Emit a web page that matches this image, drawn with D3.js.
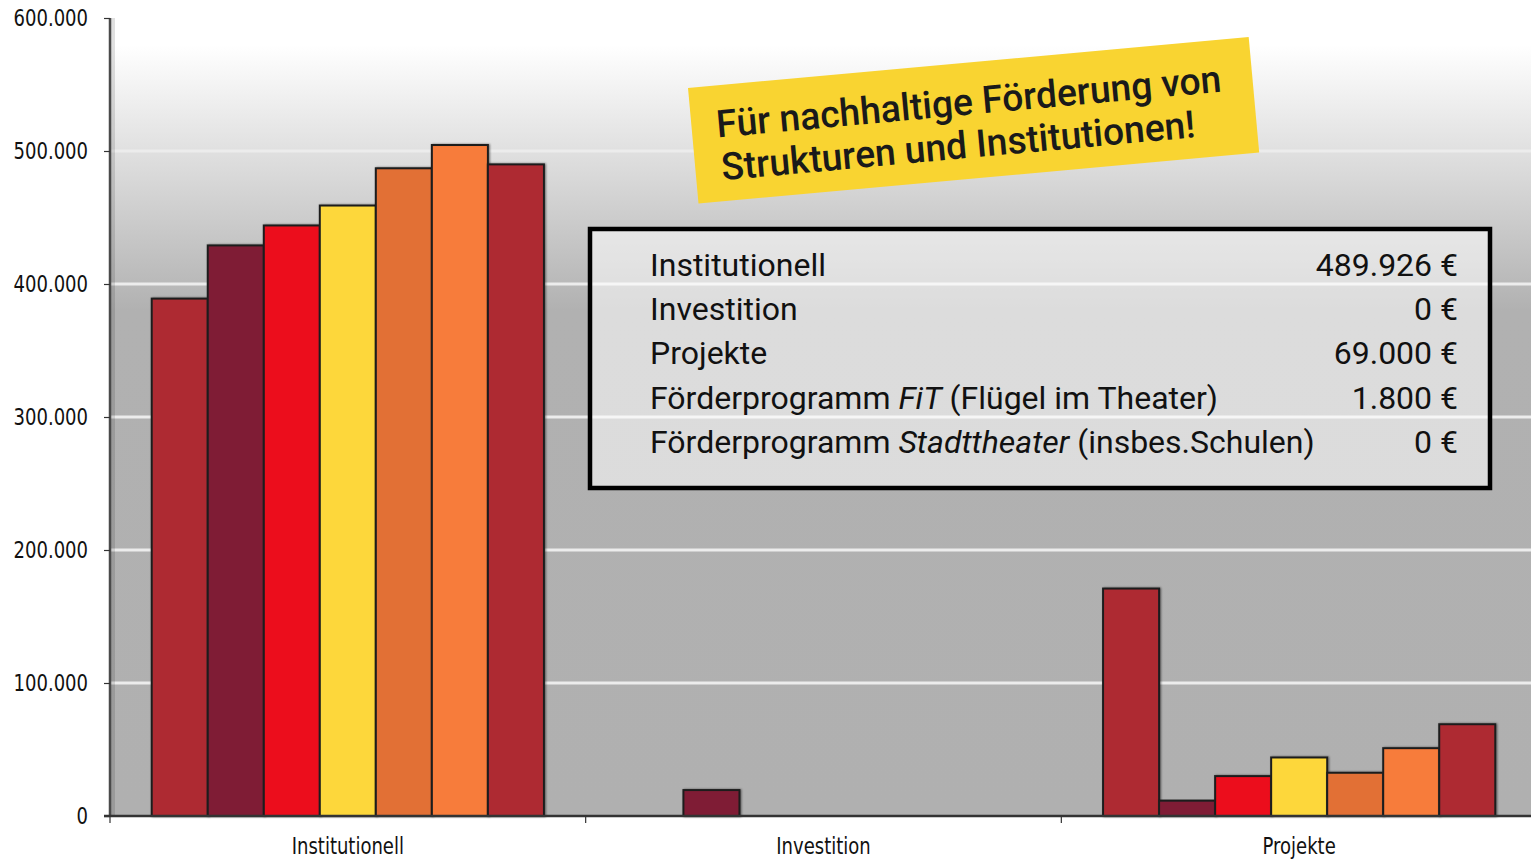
<!DOCTYPE html>
<html><head><meta charset="utf-8">
<script src="https://cdn.jsdelivr.net/npm/d3@7"></script>
<style>
html,body{margin:0;padding:0;background:#fff;overflow:hidden}
svg{display:block}
</style></head>
<body>
<svg id="chart" width="1531" height="859"></svg>
<script>
// ---- data ----
const categories = ["Institutionell", "Investition", "Projekte"];
const seriesNames = ["Reihe 1", "Reihe 2", "Reihe 3", "Reihe 4", "Reihe 5", "Reihe 6", "Reihe 7"];
const seriesColors = ["#AE2A33", "#7F1B36", "#EC0A1A", "#FDD73A", "#E27035", "#F77B3A", "#AE2A33"];
const institutionell = [389000, 429000, 444000, 459000, 487000, 504500, 489926];
const investition   = [0, 19500, 0, 0, 0, 0, 0];
const projekte      = [171000, 11500, 30000, 44000, 32500, 51000, 69000];
const yTicks = [0, 100000, 200000, 300000, 400000, 500000, 600000];
const legendLabels = [
  [{t:"Institutionell"}],
  [{t:"Investition"}],
  [{t:"Projekte"}],
  [{t:"Förderprogramm "},{t:"FiT",i:true},{t:" (Flügel im Theater)"}],
  [{t:"Förderprogramm "},{t:"Stadttheater",i:true},{t:" (insbes.Schulen)"}]
];
const legendValues = ["489.926 €", "0 €", "69.000 €", "1.800 €", "0 €"];
const noteLines = ["Für nachhaltige Förderung von", "Strukturen und Institutionen!"];

const values = [institutionell, investition, projekte];

// ---- layout ----
const svg = d3.select("#chart");
const W = 1531, H = 859;
const pL = 110, pT = 18, pB = 816, pR = 1537;
const axisFont = "'Liberation Sans Narrow','Arial Narrow','DejaVu Sans Condensed',sans-serif";

const de = d3.formatLocale({decimal: ",", thousands: ".", grouping: [3], currency: ["", " €"]});
const fmt = de.format(",d");

const x = d3.scaleBand().domain(categories).range([pL, pR]).padding(0);
const xs = d3.scaleBand().domain(seriesNames).range([0, x.bandwidth()]).paddingInner(0).paddingOuter(0.745);
const y = d3.scaleLinear().domain([0, 600000]).range([pB, pT]);

const defs = svg.append("defs");
const grad = defs.append("linearGradient").attr("id", "bg").attr("gradientUnits", "userSpaceOnUse")
  .attr("x1", 0).attr("x2", 0).attr("y1", pT).attr("y2", pB);
[[pT, "#ffffff"], [45, "#ffffff"], [y(500000), "#e0e0e0"], [y(400000), "#b9b9b9"], [y(380000), "#b1b1b1"], [pB, "#b0b0b0"]]
  .forEach(([yy, c]) => grad.append("stop").attr("offset", (yy - pT) / (pB - pT)).attr("stop-color", c));

const shadow = defs.append("filter").attr("id", "sh").attr("x", "-10%").attr("y", "-10%").attr("width", "130%").attr("height", "130%");
shadow.append("feGaussianBlur").attr("in", "SourceAlpha").attr("stdDeviation", 1.2).attr("result", "b");
shadow.append("feOffset").attr("in", "b").attr("dx", 1).attr("dy", 0).attr("result", "o");
shadow.append("feComponentTransfer").attr("in", "o").attr("result", "o2").append("feFuncA").attr("type", "linear").attr("slope", 0.5);
const m = shadow.append("feMerge"); m.append("feMergeNode").attr("in", "o2"); m.append("feMergeNode").attr("in", "SourceGraphic");

// plot background
svg.append("rect").attr("x", pL).attr("y", pT).attr("width", W - pL).attr("height", pB - pT).attr("fill", "url(#bg)");

// gridlines
svg.append("g").selectAll("line").data(yTicks.filter(d => d > 0 && d < 600000)).join("line")
  .attr("x1", pL).attr("x2", W).attr("y1", d => y(d)).attr("y2", d => y(d))
  .attr("stroke", "#ececec").attr("stroke-width", 3);

// axis shadow
svg.append("rect").attr("x", pL + 1).attr("y", pT).attr("width", 4).attr("height", pB - pT).attr("fill", "#000").attr("opacity", 0.12);

// bars
const gBars = svg.append("g");
categories.forEach((c, ci) => {
  gBars.append("g").attr("transform", `translate(${x(c)},0)`)
    .selectAll("rect").data(values[ci].map((v, si) => ({v, si})).filter(d => d.v > 0)).join("rect")
    .attr("x", d => xs(seriesNames[d.si]))
    .attr("y", d => y(d.v))
    .attr("width", xs.bandwidth())
    .attr("height", d => y(0) - y(d.v))
    .attr("fill", d => seriesColors[d.si])
    .attr("stroke", "#1e1e1e").attr("stroke-width", 2)
    .attr("filter", "url(#sh)");
});

function squeeze(sel, f) {
  sel.each(function () {
    const w = this.getComputedTextLength();
    d3.select(this).attr("textLength", w * f).attr("lengthAdjust", "spacingAndGlyphs");
  });
}

// y axis
const yAxis = svg.append("g").attr("transform", `translate(${pL},0)`)
  .call(d3.axisLeft(y).tickValues(yTicks).tickFormat(fmt).tickSize(6).tickPadding(16));
yAxis.select(".domain").attr("stroke", "#4a4a4a").attr("stroke-width", 2.5).attr("d", `M0,${pT}V${pB}`);
yAxis.selectAll(".tick line").attr("stroke", "#333").attr("stroke-width", 1.2);
yAxis.selectAll(".tick text").attr("fill", "#111")
  .style("font-family", axisFont).style("font-size", "23px");
squeeze(yAxis.selectAll(".tick text"), 0.87);

// x axis: labels at centers, ticks at band boundaries
svg.append("line").attr("x1", pL - 6).attr("x2", W).attr("y1", pB).attr("y2", pB).attr("stroke", "#333").attr("stroke-width", 2.5);
svg.append("g").selectAll("line").data(categories).join("line")
  .attr("x1", d => x(d)).attr("x2", d => x(d)).attr("y1", pB).attr("y2", pB + 7)
  .attr("stroke", "#333").attr("stroke-width", 1.2);
const xl = svg.append("g").selectAll("text").data(categories).join("text")
  .attr("x", d => x(d) + x.bandwidth() / 2).attr("y", 854).attr("text-anchor", "middle").attr("fill", "#111")
  .style("font-family", axisFont).style("font-size", "23px")
  .text(d => d);
squeeze(xl, 0.87);

// sticky note
const note = svg.append("g").attr("transform", "translate(688,88) rotate(-5.2)");
note.append("rect").attr("x", 0).attr("y", 0).attr("width", 563).attr("height", 116).attr("fill", "#F9D431");
const nt = note.selectAll("text").data(noteLines).join("text")
  .attr("x", (d, i) => 25 + i * 1).attr("y", (d, i) => 52 + i * 43)
  .attr("fill", "#1a1a1a")
  .style("font-family", "Roboto, sans-serif").style("font-weight", 500).style("font-size", "38px")
  .text(d => d);
squeeze(nt, 0.98);

// legend box
const lg = svg.append("g");
lg.append("rect").attr("x", 590).attr("y", 229).attr("width", 900).attr("height", 259)
  .attr("fill", "rgba(255,255,255,0.55)").attr("stroke", "#000").attr("stroke-width", 4.5);
legendLabels.forEach((parts, i) => {
  const t = lg.append("text").attr("x", 650).attr("y", 276 + i * 44.2).attr("fill", "#111")
    .style("font-family", "Roboto, sans-serif").style("font-size", "32px");
  parts.forEach(p => t.append("tspan").style("font-style", p.i ? "italic" : "normal").text(p.t));
  lg.append("text").attr("x", 1458).attr("y", 276 + i * 44.2).attr("text-anchor", "end").attr("fill", "#111")
    .style("font-family", "Roboto, sans-serif").style("font-size", "32px").text(legendValues[i]);
});
</script>
</body></html>
